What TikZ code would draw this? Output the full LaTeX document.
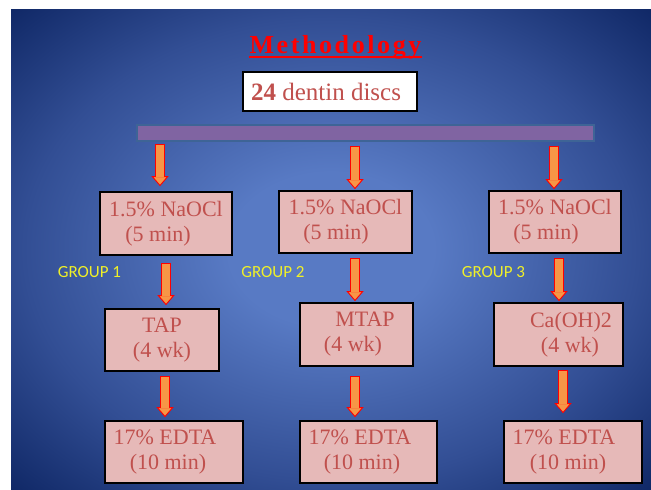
\documentclass[tikz,border=0pt]{standalone}
\usepackage{fontspec}
\setmainfont{Liberation Serif}
\newfontfamily\grupofont{Carlito}
\usetikzlibrary{arrows.meta}

\definecolor{textorojo}{RGB}{192,80,77}
\definecolor{cajafondo}{RGB}{230,185,184}
\definecolor{flechafondo}{RGB}{247,150,70}
\definecolor{flechaborde}{RGB}{255,0,0}
\definecolor{barrafondo}{RGB}{128,100,162}
\definecolor{barraborde}{RGB}{62,100,150}
\definecolor{grupoamarillo}{RGB}{240,240,40}
\definecolor{fondoin}{RGB}{88,122,196}
\definecolor{fondomed}{RGB}{50,78,148}
\definecolor{fondoout}{RGB}{14,38,100}
\pgfdeclareradialshading{fondoslide}{\pgfpoint{0bp}{0bp}}%
  {color(0bp)=(fondoin); color(8bp)=(fondoin); color(24bp)=(fondomed); color(36bp)=(fondoout); color(50bp)=(fondoout)}

\begin{document}
\begin{tikzpicture}[x=1pt, y=-1pt,
    caja/.style={draw=black, line width=1.6pt, fill=cajafondo, text=textorojo,
        font=\fontsize{22}{25}\selectfont, align=center, inner sep=2pt},
    grupo/.style={text=grupoamarillo, font=\grupofont\fontsize{17}{19}\selectfont},
    blockarr/.style 2 args={draw=flechafondo, line width=7.5pt,
        -{Triangle[length=10pt, width=17pt, line width=0.9pt, color=flechaborde, fill=flechafondo]},
        shorten <=#1pt, shorten >=#2pt,
        preaction={draw=flechaborde, line width=9.3pt, arrows=-,
            shorten <=#1pt-0.9pt, shorten >=#2pt+8pt},
        postaction={draw=flechafondo, line width=7.5pt, arrows=-,
            shorten <=#1pt, shorten >=#2pt+9pt}}]
    \useasboundingbox (0,0) rectangle (651,490);
    \shade[shading=fondoslide] (11,9) rectangle (651,490);

    % titulo y muestra
    \node[text=red, inner sep=0pt, anchor=base,
        font=\fontsize{26}{28}\selectfont\bfseries\addfontfeature{LetterSpace=10}]
        (titulo) at (335.5,53) {Methodology};
    \draw[red, line width=2pt] ([yshift=-3.5pt]titulo.base west) -- ([yshift=-3.5pt]titulo.base east);
    \node[draw=black, line width=1.6pt, fill=white, text=textorojo, font=\fontsize{25}{28}\selectfont,
        minimum width=174pt, minimum height=39pt, inner sep=2pt]
        (discos) at (330,91.5) {\hspace*{-8pt}\textbf{24} dentin discs};
    \node[draw=barraborde, line width=1.2pt, fill=barrafondo, minimum width=457pt,
        minimum height=16pt, inner sep=0pt] (barra) at (365.5,133) {};

    % cajas de cada grupo
    \node[caja, minimum width=132pt, minimum height=63pt] (na1) at (166,223.5) {1.5\% NaOCl\\\hspace*{-16pt}(5 min)};
    \node[caja, minimum width=133pt, minimum height=62pt] (na2) at (345.5,222) {1.5\% NaOCl\\\hspace*{-19pt}(5 min)};
    \node[caja, minimum width=132pt, minimum height=62pt] (na3) at (555,222) {1.5\% NaOCl\\\hspace*{-18pt}(5 min)};

    \node[caja, minimum width=114pt, minimum height=62pt] (tap) at (162,340) {TAP\\(4 wk)};
    \node[caja, minimum width=113pt, minimum height=63pt] (mtap) at (356.5,334.5) {\hspace*{17pt}MTAP\\\hspace*{-7pt}(4 wk)};
    \node[caja, minimum width=129pt, minimum height=63pt] (caoh) at (558.5,334.5) {\hspace*{25pt}Ca(OH)2\\\hspace*{23pt}(4 wk)};

    \node[caja, minimum width=138pt, minimum height=62pt] (ed1) at (174,452) {\hspace*{-18pt}17\% EDTA\\\hspace*{-12pt}(10 min)};
    \node[caja, minimum width=137pt, minimum height=62pt] (ed2) at (368.5,452) {\hspace*{-17pt}17\% EDTA\\\hspace*{-13pt}(10 min)};
    \node[caja, minimum width=138pt, minimum height=62pt] (ed3) at (573,452) {\hspace*{-18pt}17\% EDTA\\\hspace*{-10pt}(10 min)};

    \foreach \n/\x in {1/89.5, 2/273, 3/493.5}
        \node[grupo] (g\n) at (\x,272) {GROUP \n};

    % flechas
    \draw[blockarr={3}{5}] (barra.south -| 160,0) -- (na1.north -| 160,0);
    \draw[blockarr={5}{1}] (barra.south -| 355,0) -- (na2.north -| 355,0);
    \draw[blockarr={5}{1}] (barra.south -| 554,0) -- (na3.north -| 554,0);

    \draw[blockarr={8}{3}] (na1.south -| 166,0) -- (tap.north -| 166,0);
    \draw[blockarr={5}{1}] (na2.south -| 355,0) -- (mtap.north -| 355,0);
    \draw[blockarr={5}{1}] (na3.south -| 559,0) -- (caoh.north -| 559,0);

    \draw[blockarr={5}{3}] (tap.south -| 165,0) -- (ed1.north -| 165,0);
    \draw[blockarr={10}{3}] (mtap.south -| 355,0) -- (ed2.north -| 355,0);
    \draw[blockarr={4}{7}] (caoh.south -| 563,0) -- (ed3.north -| 563,0);
\end{tikzpicture}
\end{document}
